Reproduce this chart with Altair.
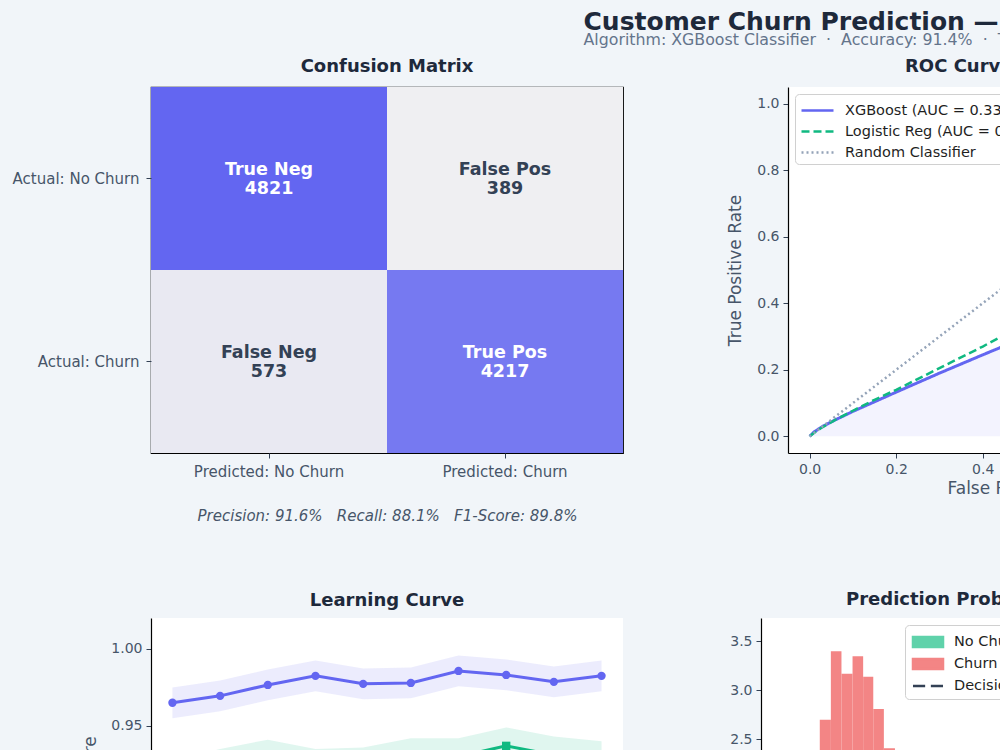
import altair as alt
import pandas as pd

FONT = "DejaVu Sans"
BG = "#f1f5f9"
DARK = "#1e293b"
GRAY = "#475569"
NB = "\u00a0"

# ---------------- data ----------------
cm_actual = ["Actual: No Churn", "Actual: No Churn", "Actual: Churn", "Actual: Churn"]
cm_predicted = ["Predicted: No Churn", "Predicted: Churn", "Predicted: No Churn", "Predicted: Churn"]
cm_names = ["True Neg", "False Pos", "False Neg", "True Pos"]
cm_counts = [4821, 389, 573, 4217]
cm_metrics = f"Precision: 91.6%{NB*3}Recall: 88.1%{NB*3}F1-Score: 89.8%"

roc_labels = ["XGBoost (AUC = 0.334)", "Logistic Reg (AUC = 0.361)", "Random Classifier"]
roc_fpr = [0.0, 0.01, 0.03, 0.06, 0.10, 0.15, 0.20, 0.30, 0.40, 0.45, 0.60, 0.80, 1.0]
xgb_tpr = [0.0, 0.013, 0.030, 0.050, 0.075, 0.104, 0.133, 0.190, 0.245, 0.272, 0.370, 0.580, 1.0]
lr_tpr = [0.0, 0.010, 0.028, 0.050, 0.077, 0.110, 0.140, 0.205, 0.270, 0.305, 0.420, 0.630, 1.0]
rand_fpr = [0.0, 1.0]
rand_tpr = [0.0, 1.0]

lc_sizes = [1000, 2000, 3000, 4000, 5000, 6000, 7000, 8000, 9000, 10000]
lc_train = [0.965, 0.9695, 0.9766, 0.9825, 0.9773, 0.9779, 0.9857, 0.9831, 0.9786, 0.9825]
lc_train_std = [0.010, 0.010, 0.010, 0.010, 0.010, 0.010, 0.010, 0.010, 0.010, 0.010]
lc_val = [0.915, 0.923, 0.929, 0.923, 0.924, 0.930, 0.930, 0.937, 0.931, 0.928]
lc_val_std = [0.012, 0.012, 0.012, 0.012, 0.012, 0.012, 0.012, 0.012, 0.012, 0.012]

hist_class = ["Churn"] * 11 + ["No Churn"] * 6
hist_start = [0.027, 0.049, 0.072, 0.095, 0.117, 0.140, 0.162, 0.183, 0.205, 0.228, 0.250,
              0.62, 0.645, 0.67, 0.695, 0.72, 0.745]
hist_end = [0.049, 0.072, 0.095, 0.117, 0.140, 0.162, 0.183, 0.205, 0.228, 0.250, 0.272,
            0.645, 0.67, 0.695, 0.72, 0.745, 0.77]
hist_density = [1.2, 1.9, 2.70, 3.40, 3.17, 3.35, 3.14, 2.81, 2.41, 1.9, 1.3,
                1.1, 1.6, 2.0, 2.2, 1.7, 1.2]
threshold = [0.5]
pred_domain = ["No Churn", "Churn", "Decision Threshold"]

TITLE = dict(fontSize=18, fontWeight="bold", color=DARK)

# ---------------- confusion matrix ----------------
cm_df = pd.DataFrame({
    "actual": cm_actual, "predicted": cm_predicted,
    "name": cm_names, "count": cm_counts,
})
cm_df["label"] = cm_df["name"] + "\n" + cm_df["count"].astype(str)

xcm = alt.X("predicted:N", sort=["Predicted: No Churn", "Predicted: Churn"],
            scale=alt.Scale(paddingInner=0, paddingOuter=0),
            axis=alt.Axis(labelAngle=0, domain=False, title=cm_metrics, labelPadding=6,
                          titleFontStyle="italic", titleFontSize=15, titlePadding=29,
                          labelFontSize=15, titleFontWeight="normal"))
ycm = alt.Y("actual:N", sort=["Actual: No Churn", "Actual: Churn"],
            scale=alt.Scale(paddingInner=0, paddingOuter=0),
            axis=alt.Axis(domain=False, title=None, labelFontSize=15, labelPadding=7))

cm_rect = alt.Chart(cm_df).mark_rect().encode(
    x=xcm, y=ycm,
    color=alt.Color("count:Q", legend=None,
                    scale=alt.Scale(domain=[389, 4821], range=["#efeff2", "#6366f1"], interpolate="rgb")),
)
cm_text = alt.Chart(cm_df).mark_text(fontSize=17.5, fontWeight="bold", lineBreak="\n",
                                     lineHeight=19, dy=-9).encode(
    x=xcm, y=ycm, text="label:N",
    color=alt.condition(alt.datum.count > 2000, alt.value("white"), alt.value("#334155")),
)
cm_chart = alt.layer(cm_rect, cm_text).properties(
    width=472, height=366,
    title=alt.TitleParams("Confusion Matrix", offset=11, **TITLE),
    view=alt.ViewBackground(stroke="black", strokeWidth=1.2, fill="white"),
)

# ---------------- ROC ----------------
roc_rows = []
for f, t in zip(roc_fpr, xgb_tpr):
    roc_rows.append({"model": roc_labels[0], "fpr": f, "tpr": t})
for f, t in zip(roc_fpr, lr_tpr):
    roc_rows.append({"model": roc_labels[1], "fpr": f, "tpr": t})
for f, t in zip(rand_fpr, rand_tpr):
    roc_rows.append({"model": roc_labels[2], "fpr": f, "tpr": t})
roc_df = pd.DataFrame(roc_rows)
xgb_df = pd.DataFrame({"fpr": roc_fpr, "tpr": xgb_tpr})

xroc = alt.X("fpr:Q", scale=alt.Scale(domain=[-0.05, 1.05], nice=False, zero=False),
             axis=alt.Axis(values=[0, 0.2, 0.4, 0.6, 0.8, 1.0], format=".1f", title="False Positive Rate"))
yroc = alt.Y("tpr:Q", scale=alt.Scale(domain=[-0.05, 1.05], nice=False, zero=False),
             axis=alt.Axis(values=[0, 0.2, 0.4, 0.6, 0.8, 1.0], format=".1f", title="True Positive Rate",
                           titlePadding=12))

roc_area = alt.Chart(xgb_df).mark_area(color="#6366f1", opacity=0.08).encode(
    x=xroc, y=yroc, y2=alt.datum(0))
roc_lines = alt.Chart(roc_df).mark_line().encode(
    x=xroc, y=yroc,
    order="fpr:Q",
    color=alt.Color("model:N", sort=roc_labels, title=None,
                    scale=alt.Scale(domain=roc_labels, range=["#6366f1", "#10b981", "#94a3b8"]),
                    legend=alt.Legend(orient="top-left", offset=7, labelFontSize=14.5, labelColor="#1f1f1f",
                                      fillColor="white", strokeColor="#d0d0d0", cornerRadius=4,
                                      padding=5, symbolType="M-1.6,0H1.6", symbolSize=400,
                                      symbolOffset=6, labelOffset=16,
                                      symbolStrokeWidth=2.5, rowPadding=3, labelLimit=400)),
    strokeDash=alt.StrokeDash("model:N", sort=roc_labels, title=None,
                              scale=alt.Scale(domain=roc_labels, range=[[1, 0], [8, 4], [2, 3]])),
    strokeWidth=alt.condition(alt.datum.model == roc_labels[0], alt.value(3), alt.value(2.5)),
)
roc_chart = alt.layer(roc_area, roc_lines).properties(
    width=476, height=366,
    title=alt.TitleParams("ROC Curve Comparison", anchor="start", frame="group", dx=117, offset=11, **TITLE),
)

# ---------------- learning curve ----------------
lc_df = pd.DataFrame({
    "size": lc_sizes,
    "train": lc_train,
    "train_lo": [m - s for m, s in zip(lc_train, lc_train_std)],
    "train_hi": [m + s for m, s in zip(lc_train, lc_train_std)],
    "val": lc_val,
    "val_lo": [m - s for m, s in zip(lc_val, lc_val_std)],
    "val_hi": [m + s for m, s in zip(lc_val, lc_val_std)],
})
xlc = alt.X("size:Q", scale=alt.Scale(domain=[550, 10450], nice=False, zero=False),
            axis=alt.Axis(title="Training Set Size", format=",d"))
ylc_scale = alt.Scale(domain=[0.7822, 1.0201], nice=False, zero=False)
ylc_axis = alt.Axis(values=[0.80, 0.85, 0.90, 0.95, 1.00], format=".2f", title="Accuracy Score",
                    titlePadding=11)

base_lc = alt.Chart(lc_df)
lc_layers = alt.layer(
    base_lc.mark_area(color="#6366f1", opacity=0.12).encode(
        x=xlc, y=alt.Y("train_lo:Q", scale=ylc_scale, axis=ylc_axis), y2="train_hi:Q"),
    base_lc.mark_area(color="#10b981", opacity=0.13).encode(
        x=xlc, y=alt.Y("val_lo:Q", scale=ylc_scale, axis=ylc_axis), y2="val_hi:Q"),
    base_lc.mark_line(color="#6366f1", strokeWidth=3,
                      point=alt.OverlayMarkDef(color="#6366f1", size=70, filled=True, opacity=1)).encode(
        x=xlc, y=alt.Y("train:Q", scale=ylc_scale, axis=ylc_axis)),
    base_lc.mark_line(color="#10b981", strokeWidth=3,
                      point=alt.OverlayMarkDef(color="#10b981", size=70, shape="square", filled=True, opacity=1)).encode(
        x=xlc, y=alt.Y("val:Q", scale=ylc_scale, axis=ylc_axis)),
).properties(
    width=472, height=366,
    title=alt.TitleParams("Learning Curve", offset=8, **TITLE),
)

# ---------------- prediction distribution ----------------
hist_df = pd.DataFrame({"series": hist_class, "start": hist_start, "end": hist_end, "density": hist_density})
thr_df = pd.DataFrame({"x": threshold, "series": ["Decision Threshold"]})

xpp_scale = alt.Scale(domain=[-0.05, 1.05], nice=False, zero=False)
ypp_scale = alt.Scale(domain=[0, 3.74], nice=False, zero=False)
pred_color = alt.Scale(domain=pred_domain, range=["#5fd2aa", "#f38585", "#334155"])

sym_shape = ("datum.value === 'Decision Threshold' ? 'M-1.58,0H-0.3M0.3,0H1.58' : "
             "'M-1.58,-0.53H1.58V0.53H-1.58Z'")
sym_stroke = "datum.value === 'Decision Threshold' ? '#334155' : 'transparent'"

pred_legend = alt.Legend(
    orient="none", legendX=144, legendY=7, title=None, labelFontSize=14.5, labelColor="#1f1f1f",
    fillColor="white", strokeColor="#d0d0d0", cornerRadius=4, padding=6, rowPadding=0,
    symbolSize=361, symbolOffset=6, labelOffset=15,
    symbolType={"expr": sym_shape},
    symbolStrokeColor={"expr": sym_stroke},
    symbolStrokeWidth=2.5,
    symbolOpacity=1,
)

pp_bars = alt.Chart(hist_df).mark_rect(opacity=1).encode(
    x=alt.X("start:Q", scale=xpp_scale, axis=alt.Axis(title="Predicted Churn Probability",
                                                         values=[0, 0.2, 0.4, 0.6, 0.8, 1.0], format=".1f")),
    x2="end:Q",
    y=alt.Y("density:Q", scale=ypp_scale,
            axis=alt.Axis(values=[0, 0.5, 1.0, 1.5, 2.0, 2.5, 3.0, 3.5], format=".1f", title="Density")),
    color=alt.Color("series:N", scale=pred_color, legend=pred_legend),
)
pp_rule = alt.Chart(thr_df).mark_rule(strokeWidth=2.5, strokeDash=[7, 4]).encode(
    x=alt.X("x:Q", scale=xpp_scale),
    color=alt.Color("series:N", scale=pred_color, legend=pred_legend),
)
pp_chart = alt.layer(pp_bars, pp_rule).properties(
    width=530, height=366,
    title=alt.TitleParams("Prediction Probability Distribution", anchor="start", frame="group",
                          dx=85, offset=8, **TITLE),
)

# ---------------- layout ----------------
col1 = alt.vconcat(cm_chart, lc_layers, spacing=165, bounds="flush").resolve_scale(
    color="independent").resolve_legend(color="independent")
col2 = alt.vconcat(roc_chart, pp_chart, spacing=165, bounds="flush", center=True).resolve_scale(
    color="independent", strokeDash="independent").resolve_legend(
    color="independent", strokeDash="independent")

chart = alt.hconcat(col1, col2, spacing=80).resolve_scale(
    color="independent", strokeDash="independent").resolve_legend(
    color="independent", strokeDash="independent").properties(
    title=alt.TitleParams(
        "Customer Churn Prediction — Model Performance Dashboard",
        subtitle=f"Algorithm: XGBoost Classifier{NB*2}·{NB*2}Accuracy: 91.4%{NB*2}·{NB*2}Test Samples: 10,000",
        anchor="start", dx=572, fontSize=25, fontWeight="bold", color=DARK,
        subtitleFontSize=15.8, subtitleColor="#64748b", subtitlePadding=-2, offset=10,
    ),
    autosize=alt.AutoSizeParams(type="none"),
    padding={"left": 151, "top": 87, "right": 849, "bottom": 663},
).configure(
    background=BG, font=FONT,
).configure_view(
    stroke=None, fill="white",
).configure_axis(
    domainColor="black", domainWidth=1.2, tickColor="#334155", tickSize=5, labelPadding=4,
    labelColor=GRAY, titleColor=GRAY, labelFontSize=14, titleFontSize=17, titleFontWeight="normal",
    grid=False, labelFont=FONT, titleFont=FONT,
).configure_title(font=FONT)

chart.save("out.html", embed_options={"renderer": "svg", "actions": False})
